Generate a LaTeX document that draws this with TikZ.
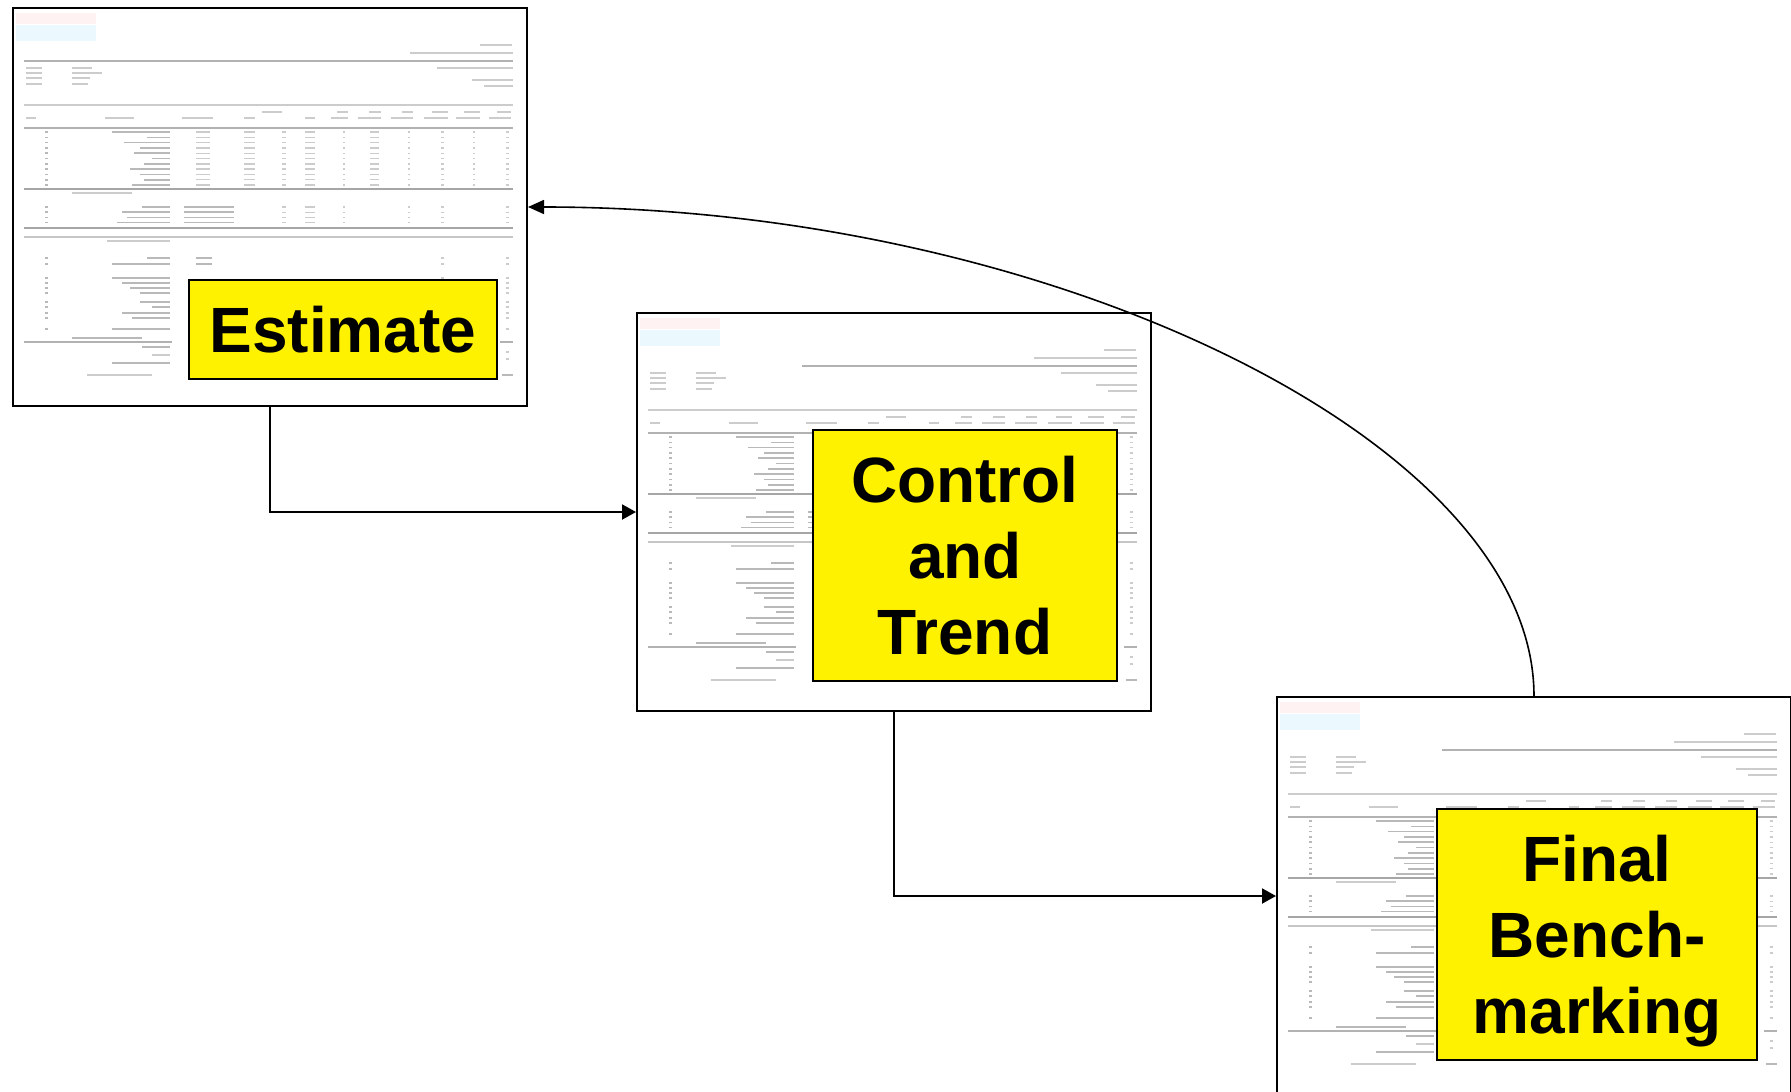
\documentclass[tikz,border=0pt]{standalone}
\usepackage{fontspec}
\setmainfont{Liberation Sans}
\usetikzlibrary{arrows.meta,calc}
\tikzset{
  docframe/.style={draw=black, line width=2pt, fill=white, minimum width=514pt, minimum height=398pt, inner sep=0pt, anchor=north west},
  labelbox/.style={draw=black, line width=2pt, fill=yellow, inner sep=0pt, align=center, font=\fontsize{64}{76}\selectfont\bfseries},
  conn/.style={draw=black, line width=2pt, -{Triangle[length=14pt,width=15pt]}},
  backconn/.style={draw=black, line width=1.6pt, -{Triangle[length=16pt,width=14pt]}},
  txt/.style={draw=gray!55, line width=1.6pt},
  lighttxt/.style={draw=gray!40, line width=1.4pt},
  rulel/.style={draw=gray!60, line width=1.2pt},
}
\newcommand{\reporttexture}[1]{%
  \fill[cyan!8] (4,18) rectangle (84,34);
  \fill[red!5] (4,6) rectangle (84,17);
  \draw[lighttxt] (468,38) -- (500,38);
  \draw[lighttxt] (398,46) -- (501,46);
  \draw[rulel, line width=1.5pt] (#1,54) -- (501,54);
  \foreach \y in {61,66,71,77}{\draw[lighttxt] (14,\y) -- (30,\y);}
  \foreach \y/\l in {61/80,66/90,71/78,77/76}{\draw[lighttxt] (60,\y) -- (\l,\y);}
  \draw[lighttxt] (425,61) -- (501,61);
  \draw[lighttxt] (460,73) -- (501,73);
  \draw[lighttxt] (472,79) -- (501,79);
  \draw[rulel, draw=gray!40] (12,98) -- (501,98);
  \foreach \a/\b in {14/24,93/122,170/201,232/243,293/303,319/336,346/369,379/401,412/436,444/468,477/499}{\draw[lighttxt] (\a,111) -- (\b,111);}
  \foreach \a/\b in {250/270,325/336,357/369,390/401,420/436,452/468,485/499}{\draw[lighttxt] (\a,105) -- (\b,105);}
  \draw[rulel] (12,121) -- (501,121);
  \foreach \i/\s in {0/100,1/135,2/112,3/128,4/122,5/140,6/132,7/118,8/128,9/132,10/120}{
    \pgfmathsetmacro\yy{125+5.3*\i}
    \draw[txt] (33,\yy) -- (36,\yy);
    \draw[txt] (\s,\yy) -- (158,\yy);
    \foreach \a/\b in {184/198,232/243,270/274,293/303,331/333,358/367,396/398,429/432,461/463,494/497}{\draw[lighttxt] (\a,\yy) -- (\b,\yy);}
  }
  \draw[rulel, line width=1.8pt, draw=gray!70] (12,182) -- (501,182);
  \draw[lighttxt] (60,186) -- (120,186);
  \foreach \i/\s in {0/130,1/110,2/115,3/105,4/85}{
    \pgfmathsetmacro\yy{200+5.2*\i}
    \draw[txt] (33,\yy) -- (36,\yy);
    \draw[txt] (\s,\yy) -- (158,\yy);
    \draw[txt] (172,\yy) -- (222,\yy);
    \foreach \a/\b in {270/274,293/303,331/333,396/398,429/432,494/497}{\draw[lighttxt] (\a,\yy) -- (\b,\yy);}
  }
  \draw[rulel, line width=1.8pt, draw=gray!70] (12,221) -- (501,221);
  \draw[rulel, draw=gray!45] (12,230) -- (501,230);
  \draw[lighttxt] (95,234) -- (158,234);
  \foreach \y/\s in {251/135,257/100,271/100,276/110,281/118,286/128,295/128,300/140,306/110,311/120,322/100}{
    \draw[txt] (33,\y) -- (36,\y);
    \draw[txt] (\s,\y) -- (158,\y);
    \draw[lighttxt] (429,\y) -- (432,\y);
    \draw[lighttxt] (494,\y) -- (497,\y);
  }
  \draw[txt] (184,251) -- (200,251);
  \draw[txt] (184,257) -- (200,257);
  \draw[rulel] (12,335) -- (160,335);
  \draw[rulel] (488,335) -- (501,335);
  \draw[txt] (60,331) -- (130,331);
  \draw[txt] (130,340) -- (158,340);
  \draw[lighttxt] (140,348) -- (158,348);
  \draw[txt] (100,356) -- (158,356);
  \draw[lighttxt] (75,368) -- (140,368);
  \draw[lighttxt] (494,345) -- (497,345);
  \draw[lighttxt] (494,352) -- (497,352);
  \draw[txt] (490,368) -- (501,368);
}
\begin{document}
\begin{tikzpicture}[x=1pt, y=-1pt]
  \useasboundingbox (0,0) rectangle (1791,1092);
  \fill[white] (0,0) rectangle (1791,1092);

  % document pages
  \node[docframe] (est) at (12,7) {};
  \begin{scope}[shift={(12,7)}]\reporttexture{12}\end{scope}
  \node[docframe] (ctl) at (636,312) {};
  \begin{scope}[shift={(636,312)}]\reporttexture{166}\end{scope}
  \node[docframe] (fin) at (1276,696) {};
  \begin{scope}[shift={(1276,696)}]\reporttexture{166}\end{scope}

  % labels
  \node[labelbox, minimum width=308pt, minimum height=99pt] (estlab) at (343,329.5) {Estimate};
  \node[labelbox, minimum width=304pt, minimum height=251pt] (ctllab) at (965,555.5) {Control\\and\\Trend};
  \node[labelbox, minimum width=320pt, minimum height=251pt, text depth=0pt] (finlab) at (1597,934.5) {Final\\Bench-\\marking};

  % connectors
  \draw[conn] (est.south) |- (ctl.west);
  \draw[conn] (ctl.south) |- (fin.west);
  \draw[backconn] (fin.north) .. controls ($(fin.north)+(0,-254)$) and ($(est.east)+(523,0)$) .. (est.east);
\end{tikzpicture}
\end{document}
